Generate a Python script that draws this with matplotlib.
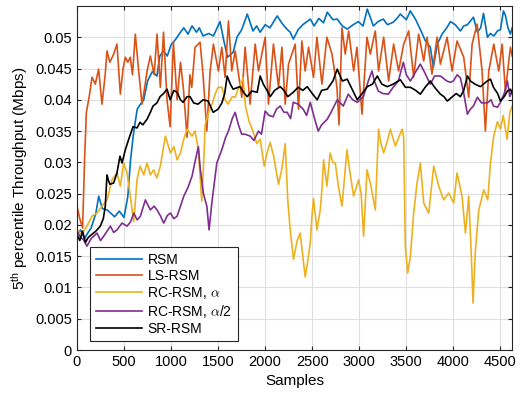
import numpy as np
import matplotlib
matplotlib.use('Agg')
import matplotlib.pyplot as plt
from matplotlib.ticker import FuncFormatter

plt.rcParams['font.family'] = ['Liberation Sans', 'DejaVu Sans']
plt.rcParams['mathtext.fontset'] = 'cm'

# values, throughput in 1e-3 Mbps
rsm_x = [0, 40, 80, 110, 150, 200, 231, 270, 320, 350, 400, 450, 500, 540, 570, 600, 640, 670, 710, 750,
         800, 850, 880, 920, 960, 1000, 1050, 1100, 1135, 1180, 1223, 1270, 1300, 1340, 1400, 1450, 1520, 1560, 1600, 1660,
         1700, 1750, 1810, 1870, 1910, 1947, 2000, 2050, 2128, 2180, 2230, 2266, 2300, 2350, 2400, 2480, 2520, 2570, 2620, 2660,
         2720, 2766, 2820, 2872, 2936, 2990, 3040, 3085, 3150, 3200, 3255, 3300, 3362, 3400, 3436, 3500, 3543, 3600, 3650, 3700,
         3755, 3787, 3830, 3880, 3930, 3968, 4020, 4074, 4110, 4150, 4213, 4255, 4290, 4320, 4362, 4394, 4430, 4468, 4500, 4532,
         4553, 4580, 4606, 4625]
rsm_y = [18.5, 19.2, 17.8, 18.6, 19.5, 21.8, 24.6, 22.6, 22.4, 22.0, 21.3, 22.2, 21.2, 24.5, 30.5, 34.5, 38.5, 39.2, 40.0, 43.0,
         44.5, 43.8, 47.0, 47.8, 47.0, 48.8, 49.7, 50.8, 51.5, 50.5, 51.8, 50.8, 51.5, 50.2, 50.6, 50.2, 52.5, 49.5, 46.8, 47.6,
         50.0, 51.2, 53.7, 51.0, 51.8, 50.8, 52.0, 51.5, 53.4, 52.2, 51.3, 50.8, 49.7, 51.2, 52.0, 52.9, 51.8, 53.0, 52.3, 54.0,
         52.8, 52.9, 51.8, 51.3, 52.0, 52.5, 51.8, 54.5, 51.8, 52.5, 52.9, 52.0, 52.4, 53.0, 53.7, 52.8, 54.2, 52.8, 51.2, 49.5,
         48.4, 45.2, 48.9, 50.5, 51.5, 52.5, 52.0, 51.0, 51.8, 52.0, 53.2, 50.8, 51.5, 53.8, 50.0, 50.6, 50.2, 51.0, 51.2, 54.2,
         53.5, 51.5, 50.5, 51.5]

ls_x = [0, 30, 60, 80, 100, 130, 160, 195, 230, 266, 300, 319, 350, 390, 425, 461, 490, 514, 540, 567,
        590, 620, 656, 691, 720, 745, 780, 820, 851, 886, 920, 957, 990, 1025, 1064, 1100, 1130, 1170, 1200, 1220,
        1255, 1308, 1340, 1380, 1415, 1450, 1503, 1539, 1574, 1610, 1645, 1681, 1752, 1787, 1840, 1894, 1929, 2000, 2035, 2088,
        2142, 2178, 2213, 2248, 2319, 2354, 2390, 2425, 2461, 2514, 2550, 2603, 2656, 2710, 2763, 2785, 2816, 2851, 2887, 2940,
        2975, 3029, 3082, 3117, 3170, 3205, 3259, 3312, 3365, 3418, 3472, 3525, 3578, 3631, 3685, 3720, 3773, 3827, 3862, 3933,
        3986, 4039, 4110, 4163, 4199, 4252, 4305, 4340, 4376, 4429, 4482, 4518, 4553, 4606, 4625]
ls_y = [23.0, 21.0, 19.5, 30.0, 38.0, 40.5, 43.6, 42.5, 44.9, 39.3, 44.0, 47.8, 46.0, 47.3, 48.9, 40.9, 45.0, 46.8, 46.0, 46.8,
        44.0, 50.5, 44.6, 39.3, 42.0, 44.6, 47.0, 44.0, 50.5, 42.0, 50.8, 40.0, 35.7, 49.2, 40.0, 46.0, 42.0, 34.0, 44.0, 42.0,
        48.4, 49.2, 44.0, 35.0, 44.6, 48.9, 44.6, 48.4, 43.6, 52.6, 44.6, 47.8, 40.4, 48.4, 39.3, 48.9, 44.6, 50.0, 39.3, 48.9,
        42.0, 48.4, 39.3, 45.7, 48.9, 38.5, 49.4, 44.6, 48.4, 43.6, 50.0, 42.5, 50.0, 47.3, 42.0, 36.0, 51.5, 47.3, 51.0, 44.6,
        48.4, 37.7, 50.0, 47.3, 51.0, 44.6, 50.0, 43.0, 48.9, 44.6, 48.9, 51.0, 43.6, 50.5, 46.2, 50.0, 44.1, 50.0, 45.7, 50.0,
        44.6, 49.4, 46.8, 40.4, 48.9, 52.1, 44.6, 35.0, 44.6, 48.9, 44.6, 48.9, 41.4, 48.4, 47.0]

rca_x = [0, 50, 106, 160, 213, 266, 320, 372, 425, 461, 497, 532, 567, 603, 617, 638, 670, 710, 745, 780,
         815, 850, 886, 940, 993, 1030, 1064, 1100, 1135, 1170, 1223, 1255, 1290, 1326, 1350, 1362, 1400, 1440, 1468, 1500,
         1540, 1575, 1606, 1650, 1681, 1720, 1766, 1790, 1830, 1870, 1910, 1947, 1990, 2020, 2053, 2090, 2142, 2178, 2213, 2240,
         2266, 2301, 2340, 2372, 2400, 2425, 2450, 2479, 2497, 2514, 2550, 2585, 2603, 2621, 2656, 2691, 2720, 2745, 2780, 2816,
         2840, 2869, 2900, 2940, 2993, 3020, 3046, 3082, 3120, 3170, 3205, 3230, 3259, 3300, 3330, 3383, 3420, 3454, 3472, 3489,
         3515, 3543, 3578, 3614, 3649, 3685, 3738, 3791, 3844, 3897, 3950, 4003, 4039, 4092, 4128, 4163, 4191, 4209, 4234, 4270,
         4323, 4365, 4394, 4429, 4468, 4500, 4530, 4571, 4600, 4625]
rca_y = [19.2, 18.5, 19.8, 21.4, 21.9, 23.0, 24.0, 27.2, 28.3, 26.2, 29.9, 28.3, 24.6, 20.5, 23.0, 27.2, 29.4, 28.0, 29.9, 28.0,
         28.8, 27.5, 29.4, 34.2, 31.5, 32.5, 30.4, 31.5, 33.7, 35.3, 34.2, 35.0, 32.0, 23.8, 31.0, 36.0, 38.0, 39.5, 40.9, 42.0,
         42.0, 40.0, 39.3, 40.5, 40.4, 42.0, 43.5, 39.0, 36.5, 35.0, 33.0, 33.7, 29.4, 31.5, 33.2, 31.0, 26.5, 29.0, 33.0, 24.0,
         19.2, 14.5, 17.5, 18.7, 15.0, 11.7, 14.0, 17.1, 21.4, 24.2, 19.2, 22.4, 25.6, 30.4, 26.2, 31.5, 30.0, 29.9, 26.0, 23.0,
         27.0, 32.0, 28.5, 24.6, 27.2, 25.0, 18.2, 28.8, 26.5, 22.4, 35.3, 33.0, 31.5, 33.5, 35.3, 32.6, 34.0, 35.3, 34.0, 16.6,
         12.3, 15.0, 21.9, 26.7, 29.9, 23.5, 21.9, 29.4, 26.2, 24.0, 25.1, 23.5, 28.3, 24.6, 18.7, 24.6, 15.0, 7.5, 16.0, 22.4,
         25.6, 24.0, 29.9, 34.2, 36.5, 35.3, 37.5, 33.7, 38.0, 39.0]

rch_x = [0, 40, 71, 106, 150, 213, 250, 284, 320, 355, 390, 425, 479, 532, 570, 603, 640, 674, 727, 780,
         820, 851, 885, 922, 960, 993, 1030, 1064, 1100, 1135, 1180, 1223, 1260, 1290, 1310, 1344, 1380, 1404, 1433, 1486,
         1539, 1580, 1610, 1650, 1681, 1716, 1750, 1787, 1840, 1880, 1929, 1960, 2000, 2040, 2085, 2120, 2160, 2200, 2234, 2270,
         2298, 2351, 2404, 2440, 2479, 2532, 2564, 2600, 2660, 2700, 2766, 2830, 2883, 2930, 2979, 3043, 3096, 3135, 3160, 3202,
         3250, 3309, 3360, 3415, 3468, 3500, 3543, 3600, 3649, 3690, 3755, 3800, 3862, 3930, 3968, 4000, 4040, 4074, 4106, 4149,
         4180, 4213, 4255, 4300, 4362, 4400, 4426, 4468, 4500, 4540, 4574, 4600, 4625]
rch_y = [19.0, 18.0, 17.6, 16.6, 17.8, 18.7, 17.5, 18.2, 19.0, 19.8, 18.8, 19.2, 20.3, 19.8, 20.5, 21.9, 20.8, 21.4, 24.0, 22.4,
         23.0, 22.4, 21.5, 20.3, 21.5, 21.9, 21.0, 21.4, 23.0, 24.6, 26.0, 27.8, 30.5, 32.5, 29.0, 25.0, 23.0, 19.2, 23.5, 29.9,
         32.0, 34.0, 35.0, 37.0, 38.0, 36.0, 34.5, 34.5, 34.2, 33.5, 35.0, 34.5, 38.2, 37.5, 37.3, 38.5, 39.0, 38.0, 38.0, 37.0,
         39.6, 39.3, 38.5, 37.5, 39.6, 36.6, 35.0, 36.0, 36.9, 38.0, 40.0, 39.0, 40.9, 40.0, 39.6, 40.5, 43.0, 44.6, 43.0, 41.4,
         41.0, 40.9, 42.0, 43.0, 46.0, 44.0, 43.0, 44.5, 45.7, 44.5, 42.5, 43.8, 43.8, 43.0, 42.8, 43.0, 44.0, 43.5, 41.4, 37.7,
         38.5, 39.0, 40.4, 39.5, 39.5, 40.0, 39.0, 38.8, 39.6, 41.0, 43.0, 40.5, 41.5]

sr_x = [0, 30, 60, 90, 120, 160, 200, 248, 280, 301, 319, 337, 350, 390, 425, 457, 479, 514, 550, 596,
        638, 670, 700, 745, 780, 808, 850, 883, 920, 957, 990, 1030, 1064, 1100, 1128, 1170, 1202, 1240, 1287, 1340,
        1394, 1447, 1500, 1540, 1570, 1596, 1630, 1660, 1713, 1734, 1780, 1809, 1858, 1915, 1947, 1980, 2020, 2053, 2100, 2160,
        2200, 2240, 2298, 2351, 2400, 2447, 2500, 2553, 2600, 2660, 2720, 2766, 2820, 2872, 2930, 2979, 3030, 3085, 3140, 3191,
        3240, 3298, 3360, 3436, 3490, 3543, 3600, 3649, 3700, 3755, 3800, 3862, 3900, 3936, 3990, 4030, 4074, 4110, 4149, 4181,
        4230, 4287, 4319, 4360, 4394, 4426, 4470, 4500, 4540, 4574, 4606, 4625]
sr_y = [18.5, 17.5, 19.0, 17.2, 18.0, 18.5, 19.0, 19.8, 21.0, 23.0, 28.0, 27.0, 26.5, 26.7, 28.3, 31.0, 29.9, 32.0, 33.7, 35.7,
        35.5, 36.4, 36.0, 36.9, 38.0, 39.0, 39.5, 40.5, 41.0, 41.7, 40.0, 41.5, 41.2, 40.0, 39.6, 40.5, 40.5, 39.5, 39.3, 40.0,
        39.8, 38.0, 38.5, 39.5, 41.0, 43.8, 42.5, 41.7, 42.0, 42.1, 41.0, 40.5, 41.4, 41.2, 43.8, 42.5, 41.5, 40.5, 41.5, 42.1,
        41.5, 40.5, 41.2, 42.0, 41.5, 42.1, 41.0, 40.0, 41.5, 41.7, 43.0, 44.9, 43.0, 43.3, 41.5, 40.0, 41.0, 42.1, 42.5, 43.8,
        42.5, 42.1, 42.5, 43.2, 42.0, 42.0, 41.5, 40.9, 42.0, 43.0, 42.0, 40.9, 40.5, 39.8, 40.5, 41.0, 40.5, 41.5, 43.8, 43.0,
        42.5, 42.1, 42.5, 43.0, 43.3, 42.0, 41.0, 39.8, 40.5, 41.4, 41.7, 41.0]

labels = ['RSM', 'LS-RSM', r'RC-RSM, $\alpha$', r'RC-RSM, $\alpha$/2', 'SR-RSM']
colors = ['#0072BD', '#D95319', '#EDB120', '#7E2F8E', 'k']

fig = plt.figure(figsize=(5.2, 3.96), dpi=100)
ax = fig.add_axes([0.148, 0.116, 0.837, 0.869])

series = [(rsm_x, rsm_y), (ls_x, ls_y), (rca_x, rca_y), (rch_x, rch_y), (sr_x, sr_y)]
for (sx, sy), lab, c in zip(series, labels, colors):
    ax.plot(sx, np.array(sy) * 1e-3, color=c, lw=1.2, label=lab)

ax.set_xlim(0, 4625)
ax.set_ylim(0, 0.055)
ax.set_xticks(np.arange(0, 4501, 500))
ax.set_yticks(np.arange(0, 0.0501, 0.005))
ax.yaxis.set_major_formatter(FuncFormatter(lambda v, p: f'{round(v, 4):g}'))
ax.tick_params(direction='in', top=True, right=True, labelsize=10.5, length=3, color='#262626')
ax.grid(True, color='#dfdfdf', lw=0.8)
ax.set_axisbelow(True)
for s in ax.spines.values():
    s.set_color('#262626')
ax.set_xlabel('Samples', fontsize=11)
ax.set_ylabel(r'$\mathregular{5^{th}}$ percentile Throughput (Mbps)', fontsize=11)

leg = ax.legend(loc='lower left', bbox_to_anchor=(0.015, 0.005), fontsize=10, handlelength=3.3,
                labelspacing=0.15, fancybox=False, framealpha=1, borderpad=0.4, handletextpad=0.4)
leg.get_frame().set_edgecolor('#262626')
leg.get_frame().set_linewidth(0.8)

fig.savefig('out.png', dpi=100)
